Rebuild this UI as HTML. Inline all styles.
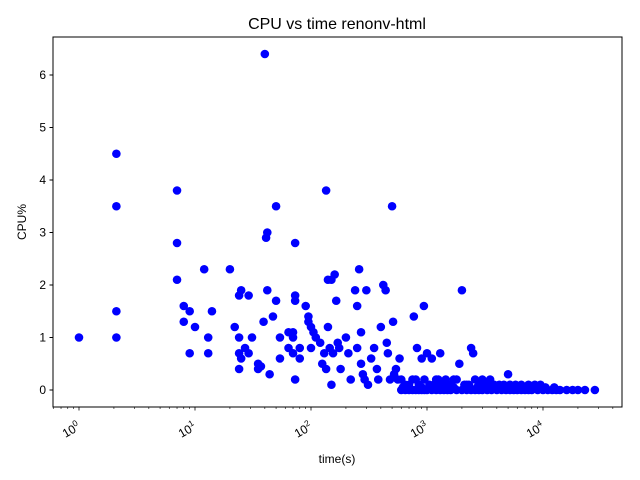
<!DOCTYPE html>
<html><head><meta charset="utf-8"><style>
html,body{margin:0;padding:0;background:#fff;}
svg{display:block;font-family:"Liberation Sans","DejaVu Sans",sans-serif;}
</style></head><body>
<svg id="chart" width="640" height="480" viewBox="0 0 640 480" xmlns="http://www.w3.org/2000/svg">
<rect width="640" height="480" fill="#fff"/>
<text x="337" y="29" font-size="16" text-anchor="middle" fill="#000">CPU vs time renonv-html</text>
<g id="ticks"></g>
<g id="points"></g>
<rect x="53" y="37" width="569" height="370" fill="none" stroke="#000" stroke-width="1"/>
<text x="337" y="463" font-size="12" text-anchor="middle">time(s)</text>
<text x="26" y="222" font-size="12" text-anchor="middle" transform="rotate(-90 26 222)">CPU%</text>
</svg>
<script>
const times = [1,2.1,2.1,2.1,2.1,7,7,7,8,8,9,9,10,12,13,13,14,20,22,24,24,24,24,25,25,27,29,29,31,35,35,37,39,40,41,42,42,44,47,50,50,54,54,64,64,70,70,70,73,73,73,73,80,80,
90,95,95,100,100,105,110,120,125,130,135,135,140,140,145,150,150,155,160,165,170,175,180,200,210,220,240,250,250,260,270,270,280,290,300,310,330,350,370,380,400,420,440,450,460,480,500,510,520,540,560,580,
770,940,2000,820,1300,2400,2500,1100,1900,5000,600,700,800,900,1000,1200,1500,1700,2200,3000,650,750,850,950,1050,1150,1250,1350,1450,1600,1800,2100,2300,2600,2800,3200,3500,3800,4200,4600,5200,5800,6500,7500,8500,9500,
600,650,700,750,800,850,900,950,1000,1100,1200,1300,1400,1500,1600,1800,2000,2200,2400,2600,2800,3000,3300,3600,4000,4400,4800,5200,5600,6000,6500,7000,7500,8000,9000,10000,11000,12000,13000,14000,16000,18000,20000,23000,28000,
620,900,1250,1700,2700,3400,4300,5300,6200,7200,8200,9000,10500,12500];
const cpus = [1.0,4.5,3.5,1.5,1.0,3.8,2.8,2.1,1.6,1.3,1.5,0.7,1.2,2.3,1.0,0.7,1.5,2.3,1.2,1.8,1.0,0.7,0.4,1.9,0.6,0.8,1.8,0.7,1.0,0.5,0.4,0.45,1.3,6.4,2.9,3.0,1.9,0.3,1.4,3.5,1.7,1.0,0.6,1.1,0.8,1.1,1.0,0.7,1.7,1.8,2.8,0.2,0.8,0.6,
1.6,1.4,1.3,1.2,0.8,1.1,1.0,0.9,0.5,0.7,3.8,0.4,2.1,1.2,0.8,0.1,2.1,0.7,2.2,1.7,0.9,0.8,0.4,1.0,0.7,0.2,1.9,1.6,0.8,2.3,1.1,0.5,0.3,0.2,1.9,0.1,0.6,0.8,0.4,0.2,1.2,2.0,1.9,0.9,0.7,0.2,3.5,1.3,0.3,0.4,0.2,0.6,
1.4,1.6,1.9,0.8,0.7,0.8,0.7,0.6,0.5,0.3,0.2,0.1,0.2,0.6,0.7,0.2,0.1,0.2,0.1,0.2,0.1,0.2,0.1,0.2,0.1,0.1,0.2,0.1,0.2,0.1,0.2,0.1,0.1,0.2,0.1,0.1,0.2,0.1,0.1,0.1,0.1,0.1,0.1,0.1,0.1,0.1,
0,0,0,0,0,0,0,0,0,0,0,0,0,0,0,0,0,0,0,0,0,0,0,0,0,0,0,0,0,0,0,0,0,0,0,0,0,0,0,0,0,0,0,0,0,
0.05,0.05,0.05,0.05,0.05,0.05,0.05,0.05,0.05,0.05,0.05,0.05,0.05,0.05];
const yTicks = [0,1,2,3,4,5,6];
const xDecades = [0,1,2,3,4];

const NS='http://www.w3.org/2000/svg';
const L=53,R=622,T=37,B=407;
function xs(t){return 79+116*Math.log10(t);}
function ys(v){return 390-52.5*v;}
function mk(tag,attrs,parent){const e=document.createElementNS(NS,tag);for(const k in attrs)e.setAttribute(k,attrs[k]);parent.appendChild(e);return e;}
const tg=document.getElementById('ticks');
yTicks.forEach(v=>{
  const y=ys(v);
  const l=mk('line',{x1:L-3.5,x2:L,y1:y,y2:y,stroke:'#000','stroke-width':1},tg);
  
  
  const t=mk('text',{x:L-7,y:y+4,'font-size':12,'text-anchor':'end'},tg);
  t.textContent=v;
  
  
});
for(let d=-1;d<=4;d++){
  for(let m=1;m<10;m++){
    const x=xs(m*Math.pow(10,d));
    if(x<L||x>R)continue;
    const major=m===1;
    const l=mk('line',{x1:x,x2:x,y1:B,y2:B+(major?3.5:2),stroke:'#000','stroke-width':major?0.8:0.6},tg);
    
    
  }
}
xDecades.forEach(d=>{
  const x=xs(Math.pow(10,d));
  const t=mk('text',{x:x+2,y:B+22,'font-size':12,'text-anchor':'end',transform:`rotate(-30 ${x+2} ${B+22})`},tg);
  t.textContent='10';
  const s=mk('tspan',{dy:-5,'font-size':8.5},t);
  s.textContent=d;
  
  
});
const pg=document.getElementById('points');
times.forEach((t,i)=>{
  const c=mk('circle',{cx:xs(t),cy:ys(cpus[i]),r:4.3,fill:'#0000ff'},pg);
  
  
});
</script>
</body></html>
